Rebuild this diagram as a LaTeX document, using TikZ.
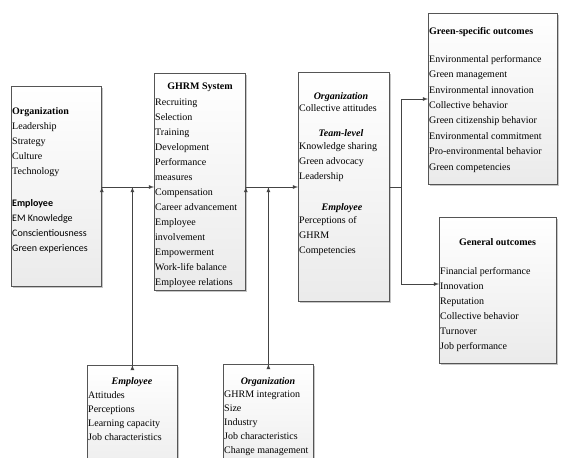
\documentclass[tikz,border=0pt]{standalone}
\usepackage{fontspec}
\setmainfont{Liberation Serif}
\newfontfamily\calfont{Carlito}
\usetikzlibrary{shadows}

\definecolor{linegray}{HTML}{444444}
\definecolor{boxgray}{HTML}{555555}

\tikzset{
  box/.style={rectangle, draw=boxgray, line width=0.8pt, inner sep=0pt,
    anchor=north west, top color=white, bottom color=gray!16,
    drop shadow={shadow xshift=1.5pt, shadow yshift=-1.5pt, fill=gray!45, opacity=1}},
  txt/.style={anchor=north west, inner sep=0pt, align=left,
    font=\fontsize{10}{15}\selectfont},
  head/.style={anchor=north, inner sep=0pt, font=\fontsize{10}{15}\selectfont\bfseries\itshape},
  conn/.style={draw=linegray, line width=0.8pt},
}

\begin{document}
\begin{tikzpicture}[x=1pt, y=-1pt, >=latex]

      \clip (0,0) rectangle (561,457);
      \useasboundingbox (0,0) rectangle (561,457);

      % boxes
      \begin{scope}[every node/.style={box}]
        \node[minimum width=90pt, minimum height=200pt]  (ante)    at (11,86)  {};
        \node[minimum width=91pt, minimum height=217pt]  (ghrm)    at (154,73) {};
        \node[minimum width=91pt, minimum height=229pt]  (med)     at (298,72) {};
        \node[minimum width=129pt, minimum height=171pt] (green)   at (428,13) {};
        \node[minimum width=117pt, minimum height=146pt] (general) at (439,217) {};
        \node[minimum width=90pt, minimum height=120pt]  (empmod)  at (87,365) {};
        \node[minimum width=90pt, minimum height=120pt]  (orgmod)  at (223,364) {};
      \end{scope}

      % antecedents
      \node[txt] (anteorg) at (12,107) {\textbf{Organization}\\Leadership\\Strategy\\Culture\\Technology};
      \node[txt, font=\fontsize{10}{15}\selectfont\calfont] (anteemp) at (12,199)
        {\textbf{Employee}\\EM Knowledge\\Conscientiousness\\Green experiences};

      % GHRM system
      \node[head, font=\fontsize{10}{15}\selectfont\bfseries] (ghrmtitle) at (200,83) {GHRM System};
      \node[txt] (ghrmlist) at (155,99) {Recruiting\\Selection\\Training\\Development\\Performance\\measures\\Compensation\\Career advancement\\Employee\\involvement\\Empowerment\\Work-life balance\\Employee relations};

      % mediators
      \node[head] (medorg)  at (341,92)  {Organization};
      \node[txt]  (medorglist) at (299,104) {Collective attitudes};
      \node[head] (medteam) at (341,129) {Team-level};
      \node[txt]  (medteamlist) at (299,142) {Knowledge sharing\\Green advocacy\\Leadership};
      \node[head] (medemp)  at (342,203) {Employee};
      \node[txt]  (medemplist) at (299,216) {Perceptions of\\GHRM\\Competencies};

      % outcomes
      \node[txt, font=\fontsize{10}{15}\selectfont\bfseries] (greentitle) at (429,27) {Green-specific outcomes};
      \node[txt, font=\fontsize{10}{15.4}\selectfont] (greenlist) at (429,55) {Environmental performance\\Green management\\Environmental innovation\\Collective behavior\\Green citizenship behavior\\Environmental commitment\\Pro-environmental behavior\\Green competencies};
      \node[head, font=\fontsize{10}{15}\selectfont\bfseries] (gentitle) at (497.5,238) {General outcomes};
      \node[txt] (genlist) at (440,267) {Financial performance\\Innovation\\Reputation\\Collective behavior\\Turnover\\Job performance};

      % moderators
      \node[head] (emptitle) at (132,377) {Employee};
      \node[txt, font=\fontsize{10}{14}\selectfont]  (emplist)  at (88,391) {Attitudes\\Perceptions\\Learning capacity\\Job characteristics};
      \node[head] (orgtitle) at (268,377) {Organization};
      \node[txt, font=\fontsize{10}{14}\selectfont]  (orglist)  at (224,391) {GHRM integration\\Size\\Industry\\Job characteristics\\Change management};

      % connectors
      \coordinate (mid) at (0,187);
      \coordinate (split) at (401,187);
      \begin{scope}[every path/.style={conn}]
        \path[->] (ante.east |- mid) edge (ghrm.west |- mid);
        \path[->] (ghrm.east |- mid) edge (med.west |- mid);
        \path[->] (empmod.north) edge (empmod.north |- mid);
        \path[->] (orgmod.north) edge (orgmod.north |- mid);
        \path (med.east |- mid) edge (split);
        \draw[->] (split) |- (green.west |- 0,99);
        \draw[->] (split) |- (general.west |- 0,284);
      \end{scope}

    \end{tikzpicture}
\end{document}
